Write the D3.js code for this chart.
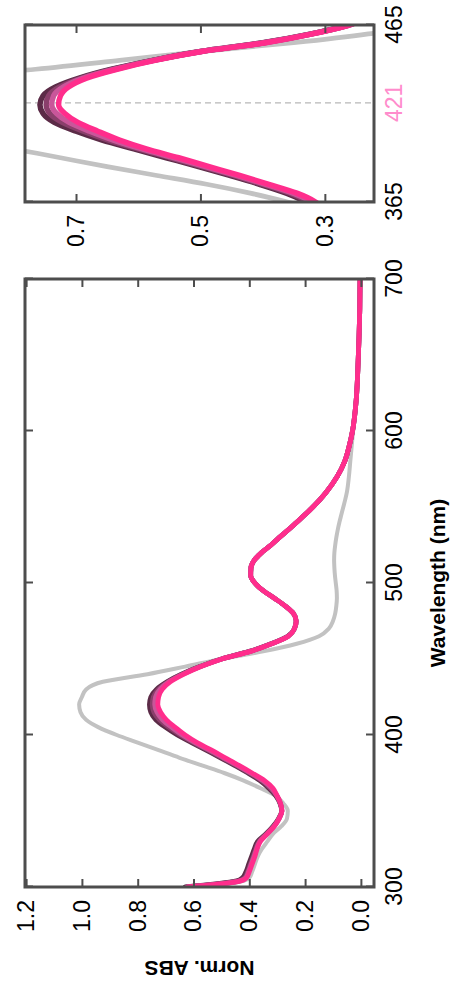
<!DOCTYPE html>
<html><head><meta charset="utf-8">
<script src="https://cdn.jsdelivr.net/npm/d3@7"></script>
<style>html,body{margin:0;padding:0;background:#fff;} svg{display:block;font-family:"Liberation Sans",Arial,sans-serif;}</style>
</head><body>
<script>
// ---------------- data ----------------
const wavelengths = [300,302,304,306,310,315,320,325,330,335,340,345,350,355,360,
  365,370,375,380,385,390,395,400,405,410,415,420,425,430,435,440,445,450,455,460,465,
  470,475,480,485,490,495,500,505,510,515,520,525,530,535,540,545,550,555,560,
  570,580,590,600,620,640,660,680,700];

const grayRef = [0.60,0.48,0.42,0.40,0.39,0.38,0.37,0.355,0.335,0.315,0.285,0.265,0.262,0.278,0.305,
  0.36,0.42,0.49,0.57,0.65,0.725,0.80,0.875,0.94,0.985,1.005,1.01,1.0,0.985,0.925,0.765,0.63,0.50,0.35,0.23,0.15,
  0.115,0.10,0.092,0.088,0.086,0.087,0.09,0.093,0.095,0.096,0.095,0.092,0.088,0.083,0.077,0.07,0.063,0.056,0.05,
  0.043,0.038,0.033,0.028,0.017,0.011,0.007,0.004,0.003];

const darkSeries = [0.63,0.52,0.445,0.425,0.412,0.402,0.392,0.382,0.37,0.34,0.315,0.295,0.284,0.29,0.305,
  0.33,0.362,0.405,0.453,0.503,0.555,0.607,0.658,0.70,0.735,0.753,0.758,0.753,0.733,0.695,0.643,0.577,0.50,0.40,0.322,0.262,
  0.238,0.232,0.242,0.272,0.31,0.35,0.38,0.395,0.394,0.382,0.356,0.322,0.292,0.26,0.23,0.20,0.172,0.146,0.123,
  0.085,0.058,0.042,0.030,0.017,0.011,0.007,0.004,0.003];

const mauveSeries = [0.625,0.51,0.437,0.417,0.406,0.396,0.386,0.377,0.365,0.338,0.312,0.294,0.283,0.289,0.302,
  0.325,0.356,0.40,0.447,0.497,0.548,0.60,0.648,0.688,0.722,0.742,0.748,0.744,0.726,0.691,0.640,0.576,0.499,0.398,0.321,0.261,
  0.238,0.232,0.242,0.272,0.31,0.35,0.38,0.395,0.394,0.382,0.356,0.322,0.292,0.26,0.23,0.20,0.172,0.146,0.123,
  0.085,0.058,0.042,0.030,0.017,0.011,0.007,0.004,0.003];

const lightSeries = [0.622,0.505,0.433,0.413,0.403,0.393,0.383,0.374,0.362,0.336,0.311,0.293,0.283,0.288,0.301,
  0.32,0.351,0.395,0.442,0.492,0.542,0.594,0.64,0.678,0.711,0.731,0.739,0.736,0.72,0.688,0.637,0.575,0.499,0.397,0.32,0.26,
  0.238,0.232,0.242,0.272,0.31,0.35,0.38,0.395,0.394,0.382,0.356,0.322,0.292,0.26,0.23,0.20,0.172,0.146,0.123,
  0.085,0.058,0.042,0.030,0.017,0.011,0.007,0.004,0.003];

const pinkSeries = [0.62,0.50,0.43,0.41,0.40,0.39,0.38,0.372,0.36,0.335,0.31,0.293,0.283,0.288,0.30,
  0.315,0.345,0.39,0.437,0.486,0.535,0.587,0.63,0.665,0.697,0.718,0.728,0.725,0.712,0.683,0.634,0.573,0.498,0.395,0.32,0.26,
  0.238,0.232,0.242,0.272,0.31,0.35,0.38,0.395,0.394,0.382,0.356,0.322,0.292,0.26,0.23,0.20,0.172,0.146,0.123,
  0.085,0.058,0.042,0.030,0.017,0.011,0.007,0.004,0.003];

const seriesNames  = ["ref","s1","s2","s3","s4"];
const seriesColors = ["#c2c2c2","#5b2b47","#8a3f6b","#c9569a","#ff2d8c"];
const seriesValues = [grayRef, darkSeries, mauveSeries, lightSeries, pinkSeries];

const mainXTicks = [300,400,500,600,700];
const mainYTicks = [0.0,0.2,0.4,0.6,0.8,1.0,1.2];
const insetXTicks = [365,465];
const insetYTicks = [0.3,0.5,0.7];
const peakMarker = 421;
const xTitle = "Wavelength (nm)";
const yTitle = "Norm. ABS";

// ---------------- chart ----------------
const W = 453, H = 988;
const svg = d3.select("body").append("svg").attr("width", W).attr("height", H);
// whole figure is rotated -90deg: local u (horizontal) -> screen up, local v -> screen right
const g = svg.append("g").attr("transform", `translate(0,${H}) rotate(-90)`);

const frameColor = "#4d4d4d";
const fontSize = 23;

function panel(opts) {
  const {x, y, xTicks, yTicks, yFmt, clipId, lw} = opts;
  const [u0, u1] = x.range();
  const [v1, v0] = y.range();
  const p = g.append("g");
  p.append("clipPath").attr("id", clipId).append("rect")
    .attr("x", u0).attr("y", v0).attr("width", u1 - u0).attr("height", v1 - v0);

  const line = d3.line().x(d => x(d[0])).y(d => y(d[1])).curve(d3.curveMonotoneX);
  const lines = p.append("g").attr("clip-path", `url(#${clipId})`);
  if (opts.marker != null) {
    lines.append("line").attr("x1", x(opts.marker)).attr("x2", x(opts.marker))
      .attr("y1", v0).attr("y2", v1).attr("stroke", "#b8b8b8").attr("stroke-width", 1.3)
      .attr("stroke-dasharray", "6,4");
  }
  seriesValues.forEach((vals, i) => {
    lines.append("path")
      .datum(wavelengths.map((w, j) => [w, vals[j]]))
      .attr("fill", "none").attr("stroke", seriesColors[i])
      .attr("stroke-width", i === 0 ? lw - 0.8 : lw)
      .attr("stroke-linejoin", "round").attr("stroke-linecap", "round")
      .attr("d", line);
  });

  const tickLen = -8;
  const bottom = p.append("g").attr("transform", `translate(0,${v1})`)
    .call(d3.axisBottom(x).tickValues(xTicks).tickSizeInner(tickLen).tickSizeOuter(0).tickPadding(12).tickFormat(d3.format("d")));
  const top = p.append("g").attr("transform", `translate(0,${v0})`)
    .call(d3.axisTop(x).tickValues(xTicks).tickSizeInner(tickLen).tickSizeOuter(0).tickFormat(""));
  const left = p.append("g").attr("transform", `translate(${u0},0)`)
    .call(d3.axisLeft(y).tickValues(yTicks).tickSizeInner(tickLen).tickSizeOuter(0).tickPadding(13).tickFormat(yFmt));
  const right = p.append("g").attr("transform", `translate(${u1},0)`)
    .call(d3.axisRight(y).tickValues(yTicks).tickSizeInner(tickLen).tickSizeOuter(0).tickFormat(""));
  [bottom, top, left, right].forEach(a => {
    a.select(".domain").remove();
    a.selectAll(".tick line").attr("stroke", frameColor).attr("stroke-width", 2);
    a.selectAll("text").attr("font-size", fontSize).attr("fill", "#000")
      .attr("font-family", '"Liberation Sans", Arial, sans-serif');
  });
  if (opts.marker != null) {
    bottom.append("text").attr("x", x(opts.marker)).attr("y", 12).attr("dy", "0.71em")
      .attr("text-anchor", "middle").attr("font-size", fontSize).attr("fill", "#ff8ccc")
      .attr("font-family", '"Liberation Sans", Arial, sans-serif')
      .text(opts.marker);
  }
  p.append("rect").attr("x", u0).attr("y", v0).attr("width", u1 - u0).attr("height", v1 - v0)
    .attr("fill", "none").attr("stroke", frameColor).attr("stroke-width", 3);
  return p;
}

// main panel
const xMain = d3.scaleLinear().domain([300, 700]).range([101, 709]);
const yMain = d3.scaleLinear().domain([-0.047, 1.204]).range([374, 25]);
panel({x: xMain, y: yMain, xTicks: mainXTicks, yTicks: mainYTicks, yFmt: d3.format(".1f"), clipId: "clipMain", lw: 4.8});

// inset panel
const xIn = d3.scaleLinear().domain([365, 465]).range([786, 963]);
const yIn = d3.scaleLinear().domain([0.221, 0.782]).range([374, 25]);
panel({x: xIn, y: yIn, xTicks: insetXTicks, yTicks: insetYTicks, yFmt: d3.format(".1f"), clipId: "clipIn", lw: 5.5, marker: peakMarker});

// axis titles
g.append("text").attr("x", (xMain.range()[0] + xMain.range()[1]) / 2).attr("y", 438).attr("dy", "0.35em")
  .attr("text-anchor", "middle").attr("font-size", 21).attr("font-weight", "bold").attr("fill", "#000")
  .text(xTitle);
g.append("text").attr("transform", `translate(20,${(yMain.range()[0] + yMain.range()[1]) / 2}) rotate(-90)`)
  .attr("dy", "0.35em").attr("text-anchor", "middle").attr("font-size", 21).attr("font-weight", "bold").attr("fill", "#000")
  .text(yTitle);
</script>
</body></html>
